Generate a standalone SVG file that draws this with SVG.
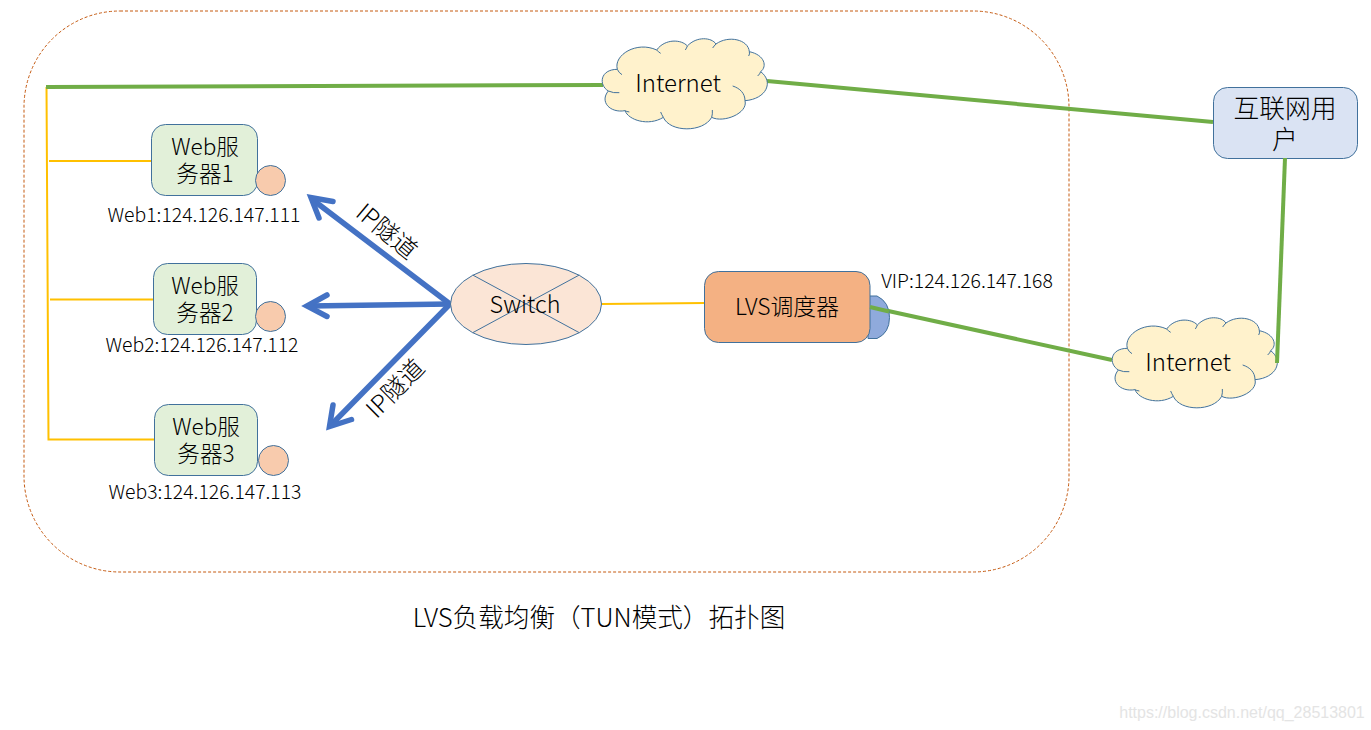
<svg xmlns="http://www.w3.org/2000/svg" xmlns:xlink="http://www.w3.org/1999/xlink" width="1371" height="730" viewBox="0 0 1371 730">
<style>
text{font-family:"Noto Sans CJK SC","Noto Sans",sans-serif;font-weight:300;fill:#000;text-anchor:middle;dominant-baseline:central}
.t24{font-size:24px}.t22{font-size:22.600px}.t20{font-size:22.800px}.t18{font-size:19.400px}.sw{font-size:23.400px}.u{font-size:25.800px}.tt{font-size:25.600px}.ip{font-size:24.500px}
.web{fill:#E2F0D9;stroke:#41719C;stroke-width:1}
.dot{fill:#F8CBAD;stroke:#41719C;stroke-width:1}
.green{fill:none;stroke:#70AD47;stroke-width:4}
.yellow{fill:none;stroke:#FFC000;stroke-width:2}
.blue{fill:none;stroke:#4472C4;stroke-width:5.500;stroke-linecap:round;stroke-miterlimit:10}
.cl{fill:#FFF2CC;stroke:#41719C;stroke-width:3}
.hook{fill:none;stroke:#41719C;stroke-width:3}
</style>
<defs>
<g id="cloud" transform="scale(.33333)">
<path class="cl" d="M55 183C25 165 30 118 82 118C70 75 140 32 200 60C225 25 275 28 292 48C320 18 365 22 378 42C415 15 475 28 478 65C525 75 532 110 512 125C552 155 530 207 465 212C475 250 400 280 365 262C340 308 240 308 220 262C175 290 115 270 105 242C60 250 28 215 55 183Z"/>
<path class="hook" d="M55 183Q70 190 88 188M82 118Q86 128 96 134M200 60Q205 66 212 70M292 48Q290 54 286 60M378 42Q372 48 368 54M478 65Q480 72 476 78M512 125Q510 132 503 138M465 212C465 190 450 175 428 168M365 262Q368 252 367 240M220 262Q215 254 212 246M105 242Q110 245 118 246"/>
</g>
</defs>
<rect id="frame" x="24" y="11" width="1045" height="561" rx="96" ry="96" fill="none" stroke="#C55A11" stroke-width="1" stroke-dasharray="3 2"/>
<g id="connectors">
<path class="yellow" d="M46.500 87L48.500 439.500H154"/>
<path class="yellow" d="M49 161H153"/>
<path class="yellow" d="M50 299.500H154"/>
<path class="yellow" d="M602 304L705 303"/>
<path class="green" d="M46 87L603 85"/>
<path class="green" d="M767 81L1213 122"/>
<path class="green" d="M870 307L1112 360"/>
<path class="blue" d="M450 304L313 200"/>
<path class="blue" d="M333 201.500L311 197.500L319 218"/>
<path class="blue" d="M450 304L309 306"/>
<path class="blue" d="M327 295L307 306L327 316.500"/>
<path class="blue" d="M450 304L332 424"/>
<path class="blue" d="M333 405L329.500 426.500L351.500 419.500"/>
</g>
<g id="web1"><rect class="web" x="151.500" y="124.500" width="106" height="71" rx="14"/><circle class="dot" cx="270.500" cy="180.500" r="15"/><text class="t22"><tspan x="205" y="144.500">Web服</tspan><tspan x="205" y="172">务器1</tspan></text><text class="t18" x="204" y="213.500">Web1:124.126.147.111</text></g>
<g id="web2"><rect class="web" x="153.500" y="263.500" width="103" height="71" rx="14"/><circle class="dot" cx="270.500" cy="316.500" r="15"/><text class="t22"><tspan x="205" y="283.500">Web服</tspan><tspan x="205" y="311">务器2</tspan></text><text class="t18" x="202" y="343.500">Web2:124.126.147.112</text></g>
<g id="web3"><rect class="web" x="154.500" y="404.500" width="103" height="71" rx="14"/><circle class="dot" cx="273.500" cy="460.500" r="15"/><text class="t22"><tspan x="206" y="424.500">Web服</tspan><tspan x="206" y="452">务器3</tspan></text><text class="t18" x="205" y="490.500">Web3:124.126.147.113</text></g>
<g id="switch"><ellipse cx="526" cy="304" rx="75.500" ry="40.500" fill="#FBE5D6" stroke="#41719C"/><path d="M472.700 275L579.300 332.700M579.300 275L472.700 332.700" stroke="#41719C" fill="none"/><text class="sw" x="525" y="303">Switch</text></g>
<g id="lvs"><path d="M868 296H877Q889.500 302 889.500 317.500Q889.500 333 877 338.500H868Z" fill="#8FAADC" stroke="#41719C"/><rect x="704.500" y="271.500" width="165.500" height="71" rx="14" fill="#F4B183" stroke="#41719C"/><text class="t20" x="787" y="305">LVS调度器</text></g>
<path class="green" d="M870 307L889 311.500"/>
<g id="vip"><text class="t18" x="967" y="279.500">VIP:124.126.147.168</text></g>
<g id="internet1"><use xlink:href="#cloud" href="#cloud" transform="translate(590 30)"/><text class="t24" x="678" y="81">Internet</text></g>
<g id="internet2"><use xlink:href="#cloud" href="#cloud" transform="translate(1100 309)"/><text class="t24" x="1188" y="360">Internet</text></g>
<g id="user"><rect x="1213.500" y="87.500" width="144" height="71" rx="14" fill="#DAE3F3" stroke="#41719C"/><text class="u"><tspan x="1285" y="106">互联网用</tspan><tspan x="1285" y="137">户</tspan></text></g>
<path class="green" d="M1285 158L1277 363"/>
<text class="ip" transform="translate(388 230) rotate(40)">IP隧道</text>
<text class="ip" transform="translate(394 387) rotate(-45)">IP隧道</text>
<text class="tt" x="599" y="615.500">LVS负载均衡（TUN模式）拓扑图</text>
<text x="1242" y="712" style="font-size:16px;fill:#E4E4E4;font-family:'Liberation Sans',sans-serif;font-weight:400">https://blog.csdn.net/qq_28513801</text>
</svg>
